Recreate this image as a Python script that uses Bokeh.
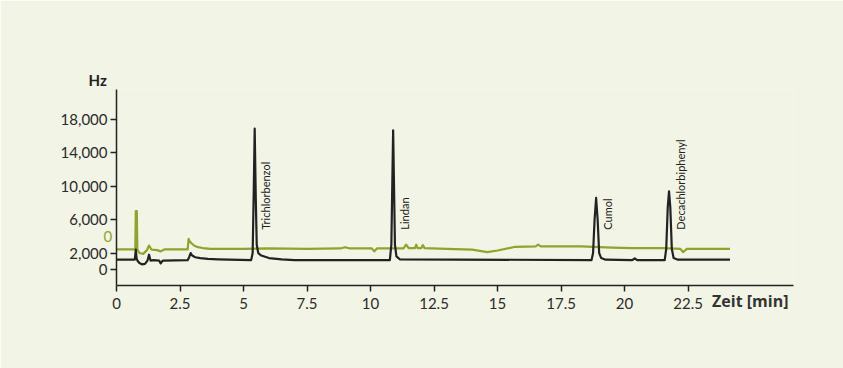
from math import pi

from bokeh.core.properties import value
from bokeh.embed import file_html
from bokeh.models import (ColumnDataSource, FixedTicker, NumeralTickFormatter,
                          Range1d, Title)
from bokeh.plotting import figure
from bokeh.resources import INLINE

# Retention time (min) and detector signal (Hz) of the two traces
black_t = [0.0, 0.72, 0.76, 0.79, 0.82, 0.9, 1.0, 1.12, 1.22, 1.28, 1.34, 1.45,
           1.68, 1.74, 1.82, 2.8, 2.86, 2.92, 2.98, 3.1, 3.3, 3.6, 4.0, 5.3,
           5.36, 5.40, 5.44, 5.48, 5.52, 5.58, 5.7, 6.0, 6.5, 7.0, 10.76,
           10.82, 10.86, 10.89, 10.92, 10.96, 11.02, 11.15, 18.70, 18.76,
           18.82, 18.88, 18.94, 19.00, 19.08, 19.25, 20.3, 20.4, 20.5, 21.58,
           21.64, 21.70, 21.75, 21.80, 21.86, 21.93, 22.1, 24.15]
black_v = [1200, 1200, 2400, 1400, 1100, 800, 650, 700, 1100, 1800, 1100, 1150,
           1100, 750, 1100, 1150, 1500, 2000, 1700, 1500, 1400, 1300, 1250, 1150,
           2000, 9000, 16900, 9000, 3000, 2000, 1700, 1400, 1250, 1150, 1150,
           3000, 11000, 16700, 11000, 3000, 1600, 1250, 1150, 2000, 6000, 8600,
           6000, 2000, 1400, 1200, 1150, 1350, 1150, 1150, 2500, 7500, 9400, 7500,
           2500, 1400, 1200, 1200]

green_t = [0.0, 0.74, 0.76, 0.80, 0.82, 0.9, 1.05, 1.2, 1.28, 1.38, 1.6, 1.74,
           1.9, 2.8, 2.84, 2.88, 2.94, 3.05, 3.2, 3.4, 3.7, 5.0, 6.0, 7.5,
           8.8, 9.0, 9.2, 10.05, 10.15, 10.25, 11.3, 11.4, 11.5, 11.75, 11.8,
           11.85, 12.0, 12.06, 12.12, 13.0, 14.0, 14.6, 15.0, 15.7, 16.5, 16.6,
           16.7, 18.3, 19.5, 20.3, 21.5, 22.2, 22.3, 22.45, 23.2, 24.15]
green_v = [2450, 2450, 7030, 7030, 2450, 2000, 1900, 2350, 2900, 2400, 2350, 2200,
           2450, 2450, 3700, 3400, 3200, 2900, 2700, 2600, 2500, 2500, 2550, 2500,
           2550, 2700, 2550, 2550, 2200, 2550, 2550, 3000, 2600, 2600, 3000, 2600,
           2600, 2950, 2600, 2500, 2400, 2100, 2300, 2750, 2800, 3000, 2800,
           2800, 2650, 2600, 2600, 2500, 2100, 2500, 2500, 2500]

# Peak annotations
peak_names = ["Trichlorbenzol", "Lindan", "Cumol", "Decachlorbiphenyl"]
peak_times = [5.44, 10.89, 18.88, 21.75]

x_ticks = [0, 2.5, 5, 7.5, 10, 12.5, 15, 17.5, 20, 22.5]
x_tick_labels = ["0", "2.5", "5", "7.5", "10", "12.5", "15", "17.5", "20", "22.5"]
y_ticks = [0, 2000, 6000, 10000, 14000, 18000]

x_title = "Zeit [min]"
y_title = "Hz"
green_zero_label = "0"

BG = "#f2f4e5"
GREEN = "#8ea42b"
INK = "#222222"
FONT = "Lato"

p = figure(width=843, height=368, output_backend="svg", toolbar_location=None,
           x_range=Range1d(0, 26.65), y_range=Range1d(-1890, 21600),
           min_border_left=116, min_border_right=50, min_border_top=89,
           min_border_bottom=83)
p.background_fill_color = BG
p.border_fill_color = BG
p.outline_line_color = None
p.grid.visible = False

p.line(green_t, green_v, line_color=GREEN, line_width=2.2, line_join="round")
p.line(black_t, black_v, line_color=INK, line_width=2.2, line_join="round")

labels = ColumnDataSource(dict(x=peak_times, y=[4800] * len(peak_times), text=peak_names))
p.text(x="x", y="y", text="text", source=labels, angle=pi / 2, x_offset=11,
       text_align="left", text_baseline="middle", text_color=INK,
       text_font=value(FONT), text_font_size="11px")

for ax in (p.xaxis[0], p.yaxis[0]):
    ax.axis_line_color = INK
    ax.axis_line_width = 1.5
    ax.major_tick_line_color = INK
    ax.major_tick_line_width = 1.5
    ax.major_tick_out = 6
    ax.major_tick_in = 0
    ax.minor_tick_line_color = None
    ax.major_label_text_font = FONT
    ax.major_label_text_font_size = "15px"
    ax.major_label_text_color = "#2b2b2b"

p.xaxis[0].ticker = FixedTicker(ticks=x_ticks)
p.xaxis[0].major_label_overrides = dict(zip(x_ticks, x_tick_labels))
p.xaxis[0].major_label_standoff = 6
p.yaxis[0].ticker = FixedTicker(ticks=y_ticks)
p.yaxis[0].formatter = NumeralTickFormatter(format="0,0")
p.yaxis[0].major_label_standoff = 3

# y title above the top of the y axis
p.title.text = y_title
p.title.align = "left"
p.title.offset = -28
p.title.standoff = 2
p.title.text_font = FONT
p.title.text_font_size = "15px"
p.title.text_font_style = "bold"
p.title.text_color = INK

# green zero marker beside the y axis, pulled down from the top border
p.add_layout(Title(text=green_zero_label, align="left", offset=-13, standoff=-305,
                   text_font=FONT, text_font_size="15px", text_font_style="normal",
                   text_color=GREEN), "above")

# x title in the row of the x tick labels, pulled up from the bottom border
p.add_layout(Title(text=x_title, align="right", vertical_align="top", offset=5,
                   standoff=-43, text_font="Open Sans", text_font_size="16px",
                   text_font_style="bold", text_color="#333333"), "below")

open("out.html", "w").write(file_html(p, INLINE))
